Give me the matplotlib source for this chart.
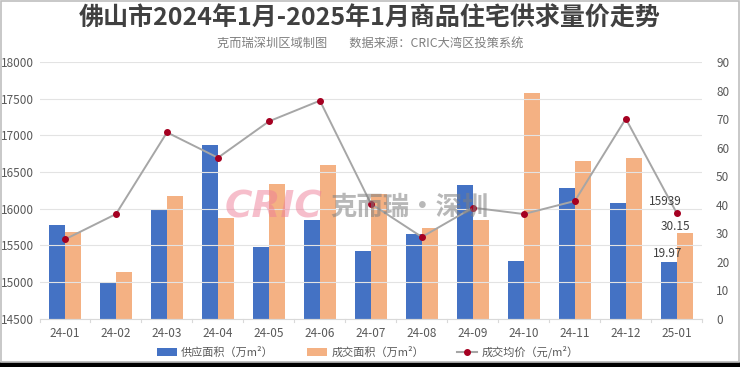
import matplotlib
matplotlib.use("Agg")
import matplotlib.pyplot as plt
import numpy as np
from matplotlib.lines import Line2D
from matplotlib.patches import Patch, Rectangle

plt.rcParams['font.family'] = ['Noto Sans CJK SC', 'DejaVu Sans']

months = ["24-01", "24-02", "24-03", "24-04", "24-05", "24-06", "24-07",
          "24-08", "24-09", "24-10", "24-11", "24-12", "25-01"]
supply = [33.0, 12.5, 38.0, 60.8, 25.0, 34.6, 23.7, 29.8, 46.9, 20.1, 45.7, 40.6, 19.97]
deal = [30.3, 16.5, 43.0, 35.2, 47.1, 53.9, 43.6, 31.9, 34.6, 79.0, 55.4, 56.3, 30.15]
price = [15582, 15927, 17041, 16695, 17191, 17473, 16068, 15614, 16014, 15927, 16105, 17227, 15939]

C_BLUE = "#4472C4"
C_ORANGE = "#F4B183"
C_LINE = "#A6A6A6"
C_MARK = "#A50021"
C_TXT = "#595959"

fig = plt.figure(figsize=(7.4, 3.67), dpi=100)
fig.patch.set_facecolor("white")

ax = fig.add_axes([0.0534, 0.1316, 0.8956, 0.6994])
ax2 = ax.twinx()

x = np.arange(len(months))
w = 0.315
ax2.bar(x - w / 2, supply, width=w, color=C_BLUE, zorder=2)
ax2.bar(x + w / 2, deal, width=w, color=C_ORANGE, zorder=2)
ax2.set_ylim(0, 90)
ax2.set_yticks(np.arange(0, 91, 10))

ax.set_ylim(14500, 18000)
ax.set_yticks(np.arange(14500, 18001, 500))
ax.set_xlim(-0.5, len(months) - 0.5)
ax.set_xticks(x)
ax.set_xticklabels(months)
ax.yaxis.grid(True, color="#E3E3E3", linewidth=0.8)
ax.set_axisbelow(True)

ax.set_zorder(ax2.get_zorder() + 1)
ax.patch.set_visible(False)
ax.plot(x, price, color=C_LINE, linewidth=1.4, marker="o", markersize=4,
        markerfacecolor=C_MARK, markeredgecolor=C_MARK, zorder=5)

for a in (ax, ax2):
    for s in a.spines.values():
        s.set_visible(False)
    a.tick_params(axis="y", length=0, labelsize=8.5, labelcolor=C_TXT)
ax.spines["bottom"].set_visible(True)
ax.spines["bottom"].set_color("#D9D9D9")
ax.tick_params(axis="x", length=0, labelsize=8.5, labelcolor=C_TXT, pad=6)
ax.tick_params(axis="y", pad=4)
ax2.tick_params(axis="y", pad=10)
for xi in np.arange(-0.5, len(months), 1.0):
    ax.plot([xi, xi], [14500, 14500 - 40], color="#D9D9D9", lw=0.8, clip_on=False)

# annotations on last point
ax.annotate(f"{price[-1]}", (x[-1], price[-1]), xytext=(-8, 4), textcoords="offset points",
            ha="center", va="bottom", fontsize=8.5, color="#404040", zorder=6)
ax2.annotate(f"{deal[-1]:.2f}", (x[-1] + w / 2, deal[-1]), xytext=(-7, 0), textcoords="offset points",
             ha="center", va="bottom", fontsize=8.5, color="#404040")
ax2.annotate(f"{supply[-1]:.2f}", (x[-1] - w / 2, supply[-1]), xytext=(-1, 1.5), textcoords="offset points",
             ha="center", va="bottom", fontsize=8.5, color="#404040")

# watermark
fig.text(0.370, 0.435, "CRIC", fontsize=27, fontweight="heavy", style="italic",
         color="#EE7F98", alpha=0.5, ha="center", va="center", family="DejaVu Sans")
fig.text(0.553, 0.435, "克而瑞·深圳", fontsize=19, fontweight="bold",
         color="#7F7F7F", alpha=0.55, ha="center", va="center")

# titles
fig.text(0.5, 0.948, "佛山市2024年1月-2025年1月商品住宅供求量价走势", fontsize=18,
         fontweight="bold", color="#404040", ha="center", va="center")
fig.text(0.5, 0.882, "克而瑞深圳区域制图        数据来源：CRIC大湾区投策系统", fontsize=8.8,
         color="#7F7F7F", ha="center", va="center")

handles = [Patch(facecolor=C_BLUE), Patch(facecolor=C_ORANGE),
           Line2D([0], [0], color=C_LINE, lw=1.5, marker="o", markersize=4,
                  markerfacecolor=C_MARK, markeredgecolor=C_MARK)]
labels = ["供应面积（万m²）", "成交面积（万m²）", "成交均价（元/m²）"]
fig.legend(handles, labels, loc="center", bbox_to_anchor=(0.4966, 0.041), ncol=3,
           frameon=False, fontsize=8, labelcolor=C_TXT, columnspacing=2.95,
           handlelength=1.8, handleheight=0.7, handletextpad=0.4)

# frame and bottom strip
fig.add_artist(Rectangle((0, 0), 1, 5 / 367, transform=fig.transFigure, color="black", zorder=10))
fig.add_artist(Rectangle((0.001, 5 / 367), 0.997, 1 - 5 / 367 - 0.003, transform=fig.transFigure,
                         fill=False, edgecolor="#BFBFBF", lw=1.2, zorder=10))

fig.savefig("out.png", dpi=100, facecolor="white")
